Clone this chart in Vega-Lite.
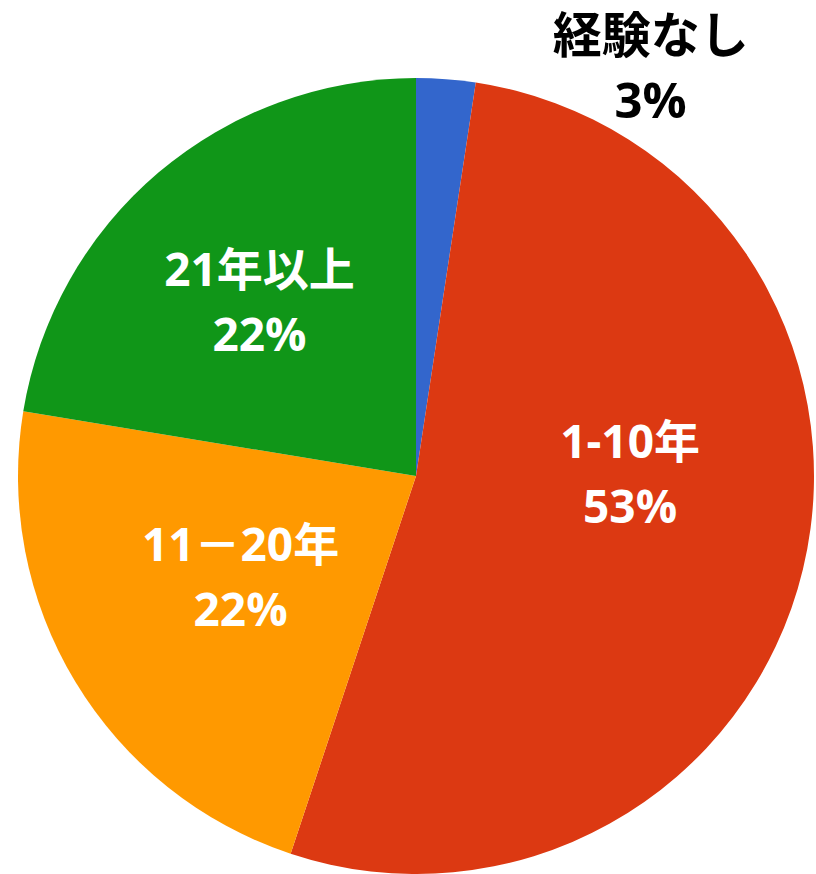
{
  "$schema": "https://vega.github.io/schema/vega-lite/v6.json",
  "width": 800,
  "height": 796,
  "autosize": "none",
  "padding": {"left": 16, "top": 78, "right": 0, "bottom": 0},
  "background": "white",
  "view": {"stroke": null},
  "data": {
    "values": [
      {"cat": "経験なし", "value": 2.4, "label": "経験なし\n3%", "idx": 1},
      {"cat": "1-10年", "value": 52.7, "label": "1-10年\n53%", "idx": 2},
      {"cat": "11－20年", "value": 22.5, "label": "11－20年\n22%", "idx": 3},
      {"cat": "21年以上", "value": 22.4, "label": "21年以上\n22%", "idx": 4}
    ]
  },
  "encoding": {
    "theta": {"field": "value", "type": "quantitative", "stack": true},
    "order": {"field": "idx", "type": "quantitative"}
  },
  "layer": [
    {
      "mark": {"type": "arc", "outerRadius": 398},
      "encoding": {
        "color": {
          "field": "cat",
          "type": "nominal",
          "scale": {
            "domain": ["経験なし", "1-10年", "11－20年", "21年以上"],
            "range": ["#3366CC", "#DC3912", "#FF9900", "#109618"]
          },
          "legend": null
        }
      }
    },
    {
      "mark": {"type": "text", "radius": 214, "dx": 6, "dy": -82, "font": "Open Sans, Noto Sans CJK JP", "fontSize": 46, "fontWeight": "bold", "fill": "white", "lineBreak": "\n", "lineHeight": 65, "align": "center", "baseline": "middle"},
      "encoding": {
        "detail": {"field": "cat", "type": "nominal"},
        "text": {"condition": {"test": "datum.cat === '1-10年'", "field": "label"}, "value": ""}
      }
    },
    {
      "mark": {"type": "text", "radius": 205, "dy": -35, "font": "Open Sans, Noto Sans CJK JP", "fontSize": 46, "fontWeight": "bold", "fill": "white", "lineBreak": "\n", "lineHeight": 65, "align": "center", "baseline": "middle"},
      "encoding": {
        "detail": {"field": "cat", "type": "nominal"},
        "text": {"condition": {"test": "datum.cat === '11－20年'", "field": "label"}, "value": ""}
      }
    },
    {
      "mark": {"type": "text", "radius": 231, "dx": -7, "dy": -28, "font": "Open Sans, Noto Sans CJK JP", "fontSize": 46, "fontWeight": "bold", "fill": "white", "lineBreak": "\n", "lineHeight": 65, "align": "center", "baseline": "middle"},
      "encoding": {
        "detail": {"field": "cat", "type": "nominal"},
        "text": {"condition": {"test": "datum.cat === '21年以上'", "field": "label"}, "value": ""}
      }
    },
    {
      "mark": {"type": "text", "radius": 420, "dx": 203, "dy": -19, "font": "Open Sans, Noto Sans CJK JP", "fontSize": 49, "fontWeight": "bold", "fill": "black", "lineBreak": "\n", "lineHeight": 65, "align": "center", "baseline": "middle"},
      "encoding": {
        "detail": {"field": "cat", "type": "nominal"},
        "text": {"condition": {"test": "datum.cat === '経験なし'", "field": "label"}, "value": ""}
      }
    }
  ]
}
